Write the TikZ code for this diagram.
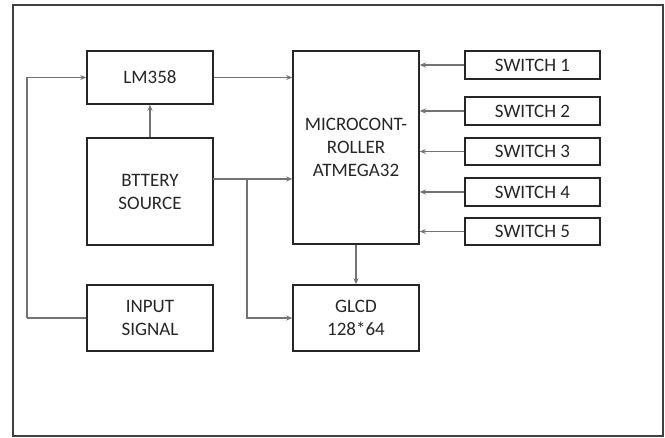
\documentclass[tikz,border=0pt]{standalone}
\usepackage{fontspec}
\setmainfont{Carlito}
\usetikzlibrary{arrows.meta}
\begin{document}
\begin{tikzpicture}[x=1pt,y=-1pt,
  blk/.style={draw=black!85,line width=1.6pt,inner sep=0pt,align=center,
    font=\fontsize{19}{23}\selectfont,text=black!85},
  swbox/.style={blk,minimum width=135pt,minimum height=28pt},
  conn/.style={draw=black!55,line width=1.2pt,-{Stealth[length=6pt,width=5pt]}},
  plain/.style={draw=black!55,line width=1.2pt}]
\useasboundingbox (0,0) rectangle (665,438);
\draw[black!75,line width=1.6pt] (13,5) rectangle (663,436);
\node[blk,minimum width=126pt,minimum height=53pt] (lm) at (150,77.5) {LM358};
\node[blk,minimum width=126pt,minimum height=107pt] (bat) at (150,191.5) {BTTERY\\SOURCE};
\node[blk,minimum width=126pt,minimum height=66pt] (inp) at (150,318) {INPUT\\SIGNAL};
\node[blk,minimum width=126pt,minimum height=193pt] (mc) at (356,147.5) {MICROCONT-\\ROLLER\\ATMEGA32};
\node[blk,minimum width=126pt,minimum height=66pt] (glcd) at (356,318) {GLCD\\128*64};
\node[swbox] (sw1) at (532.5,65) {SWITCH 1};
\node[swbox] (sw2) at (532.5,111) {SWITCH 2};
\node[swbox,minimum height=27pt] (sw3) at (532.5,151.5) {SWITCH 3};
\node[swbox] (sw4) at (532.5,192) {SWITCH 4};
\node[swbox,minimum height=27pt] (sw5) at (532.5,231.5) {SWITCH 5};
\foreach \s in {sw1,sw2,sw3,sw4,sw5}
  \draw[conn] (\s.west) -- (\s.west -| mc.east);
\draw[conn] (lm.east) -- (lm.east -| mc.west);
\draw[conn] (bat.north) -- (lm.south);
\coordinate (bo) at (213,179);
\coordinate (br) at (247,179);
\draw[conn] (bo) -- (bo -| mc.west);
\draw[conn] (br) |- (glcd.west);
\coordinate (lc) at (27,318);
\draw[plain] (inp.west) -- (lc);
\draw[conn] (lc) |- (lm.west);
\draw[conn] (mc.south) -- (glcd.north);
\end{tikzpicture}
\end{document}
